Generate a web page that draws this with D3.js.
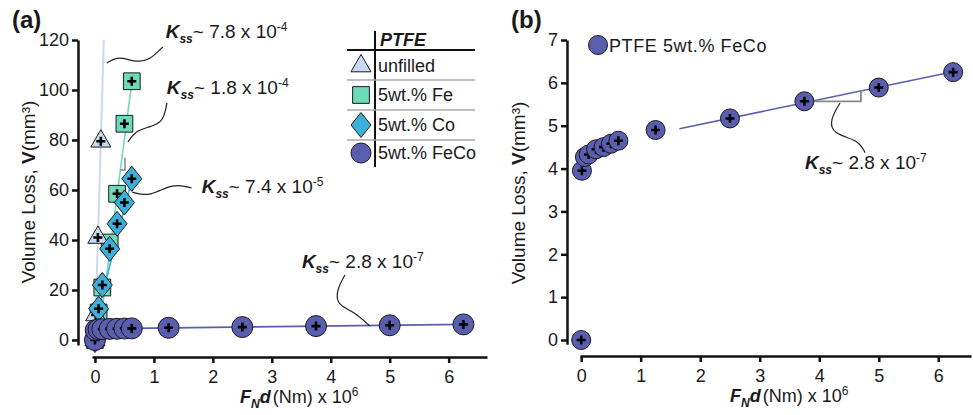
<!DOCTYPE html>
<html>
<head>
<meta charset="UTF-8">
<title>Volume loss vs F_N d</title>
<script src="https://d3js.org/d3.v7.min.js"></script>
<style>
  body { margin: 0; background: #fff; }
  text { font-family: "Liberation Sans", Arial, sans-serif; fill: #1a1a1a; }
</style>
</head>
<body>
<div id="chart"></div>
<script>
// x = F_N d (Nm) x 10^6, y = volume loss V (mm^3)
const unfilled = [[0, 0], [0.0125, 10], [0.05, 41], [0.1, 79.5]];
const fe = [[0, 0], [0.0625, 11], [0.125, 21], [0.25, 39], [0.375, 58.5], [0.5, 86.5], [0.625, 103.5]];
const co = [[0, 0], [0.0625, 12.5], [0.125, 22], [0.25, 36.5], [0.375, 46.5], [0.5, 55], [0.625, 64.5]];
const feco = [[0, 0], [0.0125, 3.95], [0.0625, 4.27], [0.125, 4.33], [0.25, 4.45], [0.375, 4.5],
  [0.5, 4.58], [0.625, 4.65], [1.25, 4.9], [2.5, 5.17], [3.75, 5.57], [5, 5.89], [6.25, 6.25]];

// linear fits (steady state wear rate)
const fitUnfilled = [[0, 0], [0.15, 120]];
const fitFe = [[0.1, 8], [0.63, 104]];
const fitCo = [[0.04, 10], [0.6, 62]];
const fitFecoA = [[0.6, 4.62], [6.25, 6.26]];
const fitFecoB = [[1.65, 4.93], [6.25, 6.26]];

const xTicks = [0, 1, 2, 3, 4, 5, 6];
const yTicksA = [0, 20, 40, 60, 80, 100, 120];
const yTicksB = [0, 1, 2, 3, 4, 5, 6, 7];

const legendTitle = "PTFE";
const legendLabels = ["unfilled", "5wt.% Fe", "5wt.% Co", "5wt.% FeCo"];
const legendLabelB = "PTFE 5wt.% FeCo";

// K_ss annotations, positions in data units
const annA = [
  { val: "7.8 x 10", exp: "-4", at: [1.2, 120.8],
    leader: [[0.2, 110.8], [0.37, 113.2], [0.54, 112.4], [0.71, 111.2], [0.93, 112], [1.15, 117.2]] },
  { val: "1.8 x 10", exp: "-4", at: [1.22, 98.4],
    leader: [[0.56, 79.2], [0.68, 83.6], [0.93, 85.2], [1.14, 87.2], [1.2, 92], [1.22, 94.8]] },
  { val: "7.4 x 10", exp: "-5", at: [1.81, 58.8],
    leader: [[0.63, 59.2], [0.93, 57.2], [1.32, 62.8], [1.64, 60.8]] },
  { val: "2.8 x 10", exp: "-7", at: [3.51, 28.8],
    leader: [[4.24, 26], [4.1, 20], [4.1, 14], [4.41, 11.2], [4.66, 5.6]] }
];
const annB = { val: "2.8 x 10", exp: "-7", at: [3.76, 3.98],
  leader: [[4.35, 5.53], [4.18, 5.14], [4.22, 4.81], [4.66, 4.67], [4.77, 4.37]] };
const bracketFe = [[0.43, 68], [0.51, 68], [0.51, 73]];
const bracketB = [[3.75, 5.57], [4.7, 5.57], [4.7, 5.81]];

const colors = { unfilled: "#c9d9f0", fe: "#6fdab9", co: "#3cb0da", feco: "#5a5eae" };

const svg = d3.select("#chart").append("svg")
  .attr("width", 973).attr("height", 415);

// panel (a) scales
const xA = d3.scaleLinear().domain([-0.05, 6.65]).range([92, 487]);
const yA = d3.scaleLinear().domain([-2, 120]).range([345, 40]);
// panel (b) scales
const xB = d3.scaleLinear().domain([-0.02, 6.55]).range([580, 971]);
const yB = d3.scaleLinear().domain([-0.1, 7]).range([344.3, 40]);

function styleAxis(g) {
  g.select(".domain").attr("stroke", "#111").attr("stroke-width", 2.5);
  g.selectAll(".tick line").attr("stroke", "#111").attr("stroke-width", 2.5);
  g.selectAll(".tick text").style("font-size", "18px").attr("fill", "#222")
    .style("font-family", "'Liberation Sans', Arial, sans-serif");
}

function drawAxes(x, y, yTicks, xAxisY, yAxisX) {
  svg.append("g").attr("transform", "translate(" + yAxisX + ",0)")
    .call(d3.axisLeft(y).tickValues(yTicks).tickFormat(d3.format("d"))
      .tickSize(6).tickSizeOuter(0).tickPadding(3))
    .call(styleAxis);
  svg.append("g").attr("transform", "translate(0," + xAxisY + ")")
    .call(d3.axisBottom(x).tickValues(xTicks).tickFormat(d3.format("d"))
      .tickSize(6).tickSizeOuter(0).tickPadding(7))
    .call(styleAxis);
}

function fitLine(x, y, pts, color, w) {
  svg.append("path")
    .attr("d", d3.line().x(d => x(d[0])).y(d => y(d[1]))(pts))
    .attr("fill", "none").attr("stroke", color).attr("stroke-width", w);
}

function leader(x, y, pts) {
  svg.append("path")
    .attr("d", d3.line().x(d => x(d[0])).y(d => y(d[1])).curve(d3.curveBasis)(pts))
    .attr("fill", "none").attr("stroke", "#222").attr("stroke-width", 1.2);
}

function kss(px, py, val, exp) {
  const t = svg.append("text").attr("x", px).attr("y", py).style("font-size", "19px");
  t.append("tspan").text("K").style("font-weight", "bold").style("font-style", "italic");
  t.append("tspan").text("ss").attr("dy", 5)
    .style("font-size", "12px").style("font-weight", "bold").style("font-style", "italic");
  t.append("tspan").text("~ " + val).attr("dy", -5);
  t.append("tspan").text(exp).attr("dy", -7).style("font-size", "12px");
}

function diamondPath(w, h) {
  return "M0," + (-h / 2) + "L" + (w / 2) + ",0L0," + (h / 2) + "L" + (-w / 2) + ",0Z";
}

const shapes = {
  triangle: () => d3.symbol(d3.symbolTriangle, 175)(),
  square: () => d3.symbol(d3.symbolSquare, 280)(),
  diamond: () => diamondPath(20, 25),
  circle: (r) => d3.symbol(d3.symbolCircle, Math.PI * r * r)()
};

function markers(x, y, data, shape, color, r) {
  const g = svg.append("g");
  const m = g.selectAll("g").data(data).enter().append("g")
    .attr("transform", d => "translate(" + x(d[0]) + "," + y(d[1]) + ")");
  m.append("path").attr("d", shape === "circle" ? shapes.circle(r) : shapes[shape]())
    .attr("fill", color).attr("stroke", "#1a1a1a").attr("stroke-width", 1);
  m.append("path").attr("d", "M-4.5,0H4.5M0,-4.5V4.5")
    .attr("stroke", "#000").attr("stroke-width", 2.6);
}

// ---------- panel (a) ----------
drawAxes(xA, yA, yTicksA, 357, 78);

fitLine(xA, yA, fitUnfilled, colors.unfilled, 2);
fitLine(xA, yA, fitFe, colors.fe, 1.6);
fitLine(xA, yA, fitCo, colors.co, 1.6);
fitLine(xA, yA, fitFecoA, colors.feco, 1.8);
fitLine(xA, yA, bracketFe, "#888", 1.5);

annA.forEach(a => {
  leader(xA, yA, a.leader);
  kss(xA(a.at[0]), yA(a.at[1]), a.val, a.exp);
});

markers(xA, yA, fe, "square", colors.fe);
markers(xA, yA, unfilled, "triangle", colors.unfilled);
markers(xA, yA, co, "diamond", colors.co);
markers(xA, yA, feco, "circle", colors.feco, 10.5);

// legend (a)
const lg = svg.append("g").attr("transform", "translate(347,0)");
lg.append("line").attr("x1", 28).attr("x2", 28).attr("y1", 31).attr("y2", 167)
  .attr("stroke", "#111").attr("stroke-width", 2);
lg.append("line").attr("x1", 0).attr("x2", 128).attr("y1", 50).attr("y2", 50)
  .attr("stroke", "#111").attr("stroke-width", 2);
[80, 110, 140].forEach(yy => {
  lg.append("line").attr("x1", 0).attr("x2", 128).attr("y1", yy).attr("y2", yy)
    .attr("stroke", "#aaa").attr("stroke-width", 1.5);
});
lg.append("text").attr("x", 33).attr("y", 46).text(legendTitle)
  .style("font-size", "18px").style("font-weight", "bold").style("font-style", "italic");
const legendShapes = ["triangle", "square", "diamond", "circle"];
const legendColors = [colors.unfilled, colors.fe, colors.co, colors.feco];
const legendRows = [66, 95, 125, 153];
legendLabels.forEach((lab, i) => {
  const d = legendShapes[i] === "circle" ? shapes.circle(10) : shapes[legendShapes[i]]();
  lg.append("path").attr("d", d).attr("transform", "translate(14," + legendRows[i] + ")")
    .attr("fill", legendColors[i]).attr("stroke", "#1a1a1a").attr("stroke-width", 1);
  lg.append("text").attr("x", 31).attr("y", legendRows[i] + 6).text(lab).style("font-size", "18px");
});

// ---------- panel (b) ----------
drawAxes(xB, yB, yTicksB, 356, 567);

fitLine(xB, yB, fitFecoB, colors.feco, 1.6);
fitLine(xB, yB, bracketB, "#888", 1.8);
leader(xB, yB, annB.leader);
kss(xB(annB.at[0]), yB(annB.at[1]), annB.val, annB.exp);
markers(xB, yB, feco, "circle", colors.feco, 9.5);

svg.append("path").attr("d", shapes.circle(9.5)).attr("transform", "translate(598,45)")
  .attr("fill", colors.feco).attr("stroke", "#1a1a1a").attr("stroke-width", 1);
svg.append("text").attr("x", 609).attr("y", 52).text(legendLabelB)
  .style("font-size", "18px").style("letter-spacing", "0.6px");

// ---------- titles ----------
function yTitle(px, py) {
  const t = svg.append("text").attr("transform", "translate(" + px + "," + py + ") rotate(-90)")
    .attr("text-anchor", "middle").style("font-size", "19px");
  t.append("tspan").text("Volume Loss, ");
  t.append("tspan").text("V").style("font-weight", "bold");
  t.append("tspan").text("(mm³)");
}
function xTitle(px, py) {
  const t = svg.append("text").attr("x", px).attr("y", py).style("font-size", "18px");
  t.append("tspan").text("F").style("font-weight", "bold").style("font-style", "italic");
  t.append("tspan").text("N").attr("dy", 5).style("font-size", "12px")
    .style("font-weight", "bold").style("font-style", "italic");
  t.append("tspan").text("d").attr("dy", -5).style("font-weight", "bold").style("font-style", "italic");
  t.append("tspan").text("(Nm) x 10").attr("dx", 2);
  t.append("tspan").text("6").attr("dy", -7).style("font-size", "12px");
}
yTitle(35, 192);
yTitle(525, 193);
xTitle(240, 403);
xTitle(730, 402);

svg.append("text").attr("x", 12).attr("y", 28).text("(a)")
  .style("font-size", "24px").style("font-weight", "bold");
svg.append("text").attr("x", 511).attr("y", 28).text("(b)")
  .style("font-size", "24px").style("font-weight", "bold");
</script>
</body>
</html>
